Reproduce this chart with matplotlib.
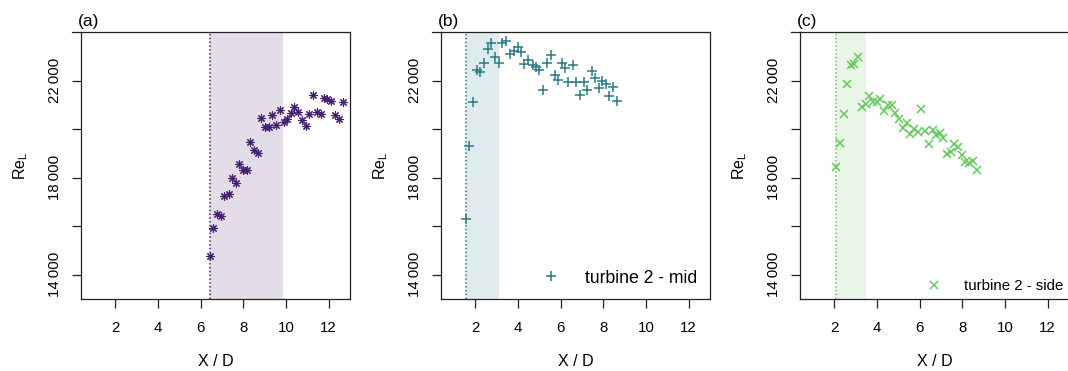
import numpy as np
import matplotlib
matplotlib.use("Agg")
import matplotlib.pyplot as plt

plt.rcParams['font.family'] = ['Liberation Sans', 'DejaVu Sans']

# panel (a): all turbines
xa = [6.42, 6.60, 6.77, 6.94, 7.11, 7.31, 7.47, 7.64, 7.81, 8.00, 8.17, 8.33,
      8.50, 8.67, 8.83, 9.02, 9.19, 9.36, 9.53, 9.70, 9.89, 10.06, 10.22, 10.39,
      10.56, 10.73, 10.92, 11.10, 11.27, 11.44, 11.63, 11.78, 11.92, 12.11,
      12.30, 12.49, 12.66]
ya = [14770, 15910, 16495, 16400, 17235, 17330, 17985, 17780, 18550, 18315,
      18300, 19465, 19125, 19000, 20455, 20070, 20100, 20575, 20155, 20770,
      20305, 20410, 20675, 20930, 20700, 20360, 20125, 20605, 21400, 20715,
      20605, 21290, 21260, 21165, 20575, 20400, 21110]

# panel (b): turbine 2 - mid
xb = [1.55, 1.73, 1.91, 2.08, 2.23, 2.42, 2.58, 2.76, 2.95, 3.13, 3.28, 3.45,
      3.64, 3.80, 4.00, 4.16, 4.30, 4.48, 4.69, 4.86, 5.00, 5.20, 5.38, 5.53,
      5.72, 5.88, 6.08, 6.22, 6.37, 6.56, 6.73, 6.92, 7.08, 7.26, 7.45, 7.59,
      7.78, 7.95, 8.11, 8.28, 8.47, 8.66]
yb = [16290, 19320, 21100, 22425, 22345, 22715, 23305, 23535, 22960, 22730,
      23565, 23620, 23085, 23225, 23385, 23180, 22700, 22835, 22620, 22550,
      22425, 21630, 22715, 23040, 22210, 22005, 22715, 22525, 21920, 22630,
      21920, 21385, 21920, 21630, 22385, 22115, 21685, 21990, 21840, 21345,
      21715, 21150]

# panel (c): turbine 2 - side
xc = [2.09, 2.26, 2.45, 2.62, 2.78, 2.95, 3.14, 3.31, 3.48, 3.65, 3.83, 4.00,
      4.17, 4.33, 4.51, 4.69, 4.86, 5.05, 5.22, 5.39, 5.54, 5.73, 5.91, 6.08,
      6.25, 6.42, 6.61, 6.76, 6.94, 7.09, 7.28, 7.45, 7.63, 7.79, 7.97, 8.14,
      8.33, 8.48, 8.67]
yc = [18455, 19440, 20605, 21850, 22650, 22690, 22975, 20905, 21045, 21355,
      21125, 21125, 21260, 20730, 21005, 20985, 20660, 20400, 20030, 20245,
      19795, 19990, 19875, 20810, 19935, 19400, 19945, 19770, 19850, 19630,
      18975, 19055, 19385, 19250, 18950, 18645, 18605, 18675, 18305]

# shaded ranges (start marked by dotted line)
zone_a = (6.45, 9.85)
zone_b = (1.56, 3.13)
zone_c = (2.09, 3.50)

panel_labels = ['(a)', '(b)', '(c)']
col_a = '#45206f'
col_b = '#2a7c85'
col_c = '#63c95a'

yticks = [14000, 16000, 18000, 20000, 22000]
yticklabels = ['14\u2009000', '', '18\u2009000', '', '22\u2009000']
xticks = [2, 4, 6, 8, 10, 12]

fig = plt.figure(figsize=(10.68, 3.71), dpi=100)
W, H = 1068, 371
lefts = [81, 441, 800]
axes = [fig.add_axes([l / W, (H - 299) / H, 269 / W, 267 / H]) for l in lefts]

series = [
    (xa, ya, (8, 2, 0), col_a, zone_a, None, 6.0, 0.8),
    (xb, yb, '+', col_b, zone_b, 'turbine 2 - mid', 6.5, 1.1),
    (xc, yc, 'x', col_c, zone_c, 'turbine 2 - side', 6.0, 1.1),
]

for i, (ax, (x, y, mk, col, zone, lab, ms, mew)) in enumerate(zip(axes, series)):
    ax.axvspan(zone[0], zone[1], color=col, alpha=0.15, lw=0, zorder=0)
    ax.axvline(zone[0], color=col, ls=(0, (1, 1.5)), lw=1.1, zorder=1)
    ax.plot(x, y, ls='none', marker=mk, ms=ms, mew=mew, color=col,
            label=lab, zorder=3)
    ax.set_xlim(0.4, 13.0)
    ax.set_ylim(13000, 24000)
    ax.set_xticks(xticks)
    ax.set_yticks(yticks)
    ax.set_yticklabels(yticklabels, rotation=90, va='center')
    ax.tick_params(direction='out', length=6.5, width=0.9, labelsize=10.8,
                   color='#222222')
    ax.tick_params(axis='x', pad=9.5)
    ax.tick_params(axis='y', pad=7)
    for s in ax.spines.values():
        s.set_linewidth(0.9)
        s.set_color('#222222')
    ax.set_xlabel('X / D', fontsize=11.5)
    ax.xaxis.set_label_coords(0.5, -0.205)
    ax.set_ylabel('Re$_{\\mathregular{L}}$', fontsize=11.5, rotation=90)
    ax.yaxis.set_label_coords(-0.19, 0.5)
    ax.text(-0.012, 1.012, panel_labels[i], transform=ax.transAxes,
            ha='left', va='bottom', fontsize=12.5)
    # top border runs slightly past the left spine
    ax.plot([-9 / 269, 0], [1, 1], transform=ax.transAxes, color='#222222',
            lw=0.9, clip_on=False)

leg_b = axes[1].legend(loc='lower right', frameon=False, fontsize=12.7,
                       handletextpad=1.2, borderaxespad=0.3,
                       handlelength=1.5, markerscale=1.0)
leg_c = axes[2].legend(loc='lower right', frameon=False, fontsize=10.8,
                       handletextpad=1.2, borderaxespad=0.0,
                       handlelength=1.5)

fig.savefig('out.png', dpi=100)
